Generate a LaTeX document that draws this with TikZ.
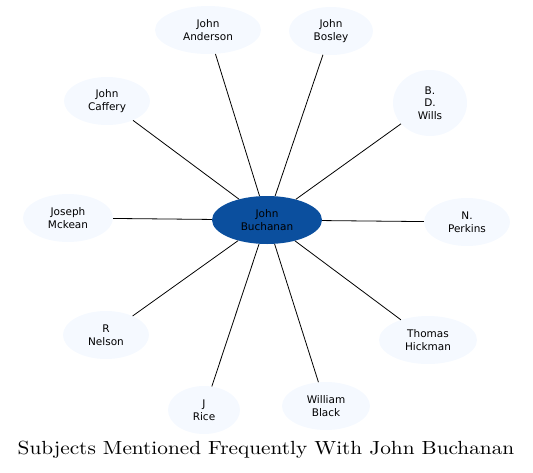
\documentclass[tikz,border=0pt]{standalone}
\usepackage{fontspec}
\newfontfamily\labelfont{DejaVu Sans}
\newfontfamily\titlefont{lmroman10-regular}[Extension=.otf, FakeStretch=1.12]
\usetikzlibrary{shapes.geometric}
\definecolor{hubblue}{HTML}{0B4F9E}
\definecolor{subjfill}{HTML}{F5F9FF}
\begin{document}
\begin{tikzpicture}[
    x=1pt, y=-1pt,
    subj/.style={ellipse, fill=subjfill, inner sep=0pt, minimum height=48pt, align=center, font=\labelfont\fontsize{10.5}{12.5}\selectfont},
    hub/.style={ellipse, fill=hubblue, inner sep=0pt, minimum width=110pt, minimum height=48pt, align=center, font=\labelfont\fontsize{10.5}{12.5}\selectfont},
    link/.style={draw=black, line width=0.8pt},
    ttl/.style={font=\titlefont\fontsize{19}{22}\selectfont}
]
\useasboundingbox (0,0) rectangle (533,472);
% --- hub ---
\node[hub] (buchanan) at (267,220) {John\\Buchanan};

% --- subjects ---
\node[subj, minimum width=106pt] (anderson) at (208,30) {John\\Anderson};
\node[subj, minimum width=84pt] (bosley) at (331,31) {John\\Bosley};
\node[subj, minimum width=74pt, minimum height=66pt] (wills) at (430,103) {B.\\D.\\Wills};
\node[subj, minimum width=86pt] (perkins) at (467,222) {N.\\Perkins};
\node[subj, minimum width=98pt] (hickman) at (428,340) {Thomas\\Hickman};
\node[subj, minimum width=88pt] (black) at (326,406) {William\\Black};
\node[subj, minimum width=72pt] (rice) at (204,410) {J\\Rice};
\node[subj, minimum width=86pt] (nelson) at (106,335) {R\\Nelson};
\node[subj, minimum width=90pt] (mckean) at (68,218) {Joseph\\Mckean};
\node[subj, minimum width=86pt] (caffery) at (107,101) {John\\Caffery};

% --- links ---
\foreach \s in {anderson,bosley,wills,perkins,hickman,black,rice,nelson,mckean,caffery}
    \draw[link] (buchanan) -- (\s);

% --- title ---
\node[ttl] (title) at (266,450) {Subjects Mentioned Frequently With John Buchanan};
\end{tikzpicture}
\end{document}
